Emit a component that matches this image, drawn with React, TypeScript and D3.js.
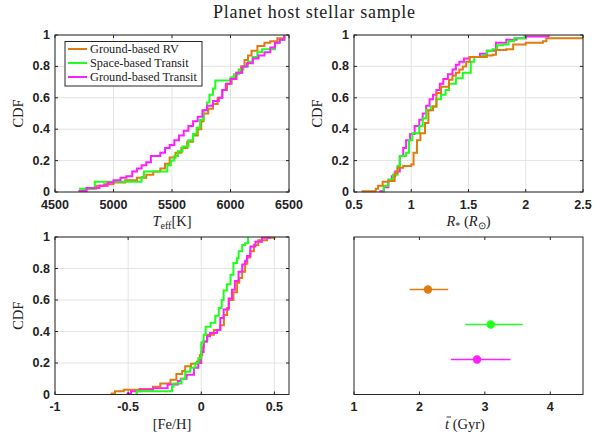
import React from "react";
import * as d3 from "d3";

// ---------- data ----------
const seriesNames = ["Ground-based RV", "Space-based Transit", "Ground-based Transit"];
const seriesColors = ["#e07b0e", "#1eff1e", "#ff1eff"];

// Teff CDF step breakpoints
const teffRvX = [4710, 4760, 4850, 4920, 5000, 5100, 5200, 5280, 5340, 5400, 5440, 5480, 5530, 5580, 5630, 5680, 5720, 5750, 5770, 5810, 5850, 5890, 5930, 5970, 6010, 6050, 6090, 6120, 6150, 6180, 6230, 6290, 6340, 6400, 6460];
const teffRvY = [0.01, 0.02, 0.04, 0.05, 0.06, 0.075, 0.09, 0.11, 0.13, 0.15, 0.18, 0.22, 0.25, 0.28, 0.32, 0.36, 0.40, 0.45, 0.50, 0.53, 0.56, 0.60, 0.65, 0.69, 0.73, 0.76, 0.80, 0.84, 0.87, 0.90, 0.93, 0.95, 0.96, 0.98, 1.0];
const teffSpX = [4705, 4840, 5240, 5260, 5460, 5490, 5520, 5550, 5590, 5640, 5680, 5710, 5740, 5770, 5800, 5820, 5850, 5870, 6000, 6030, 6070, 6110, 6150, 6190, 6230, 6270, 6380, 6420, 6460];
const teffSpY = [0.02, 0.065, 0.095, 0.13, 0.17, 0.2, 0.23, 0.26, 0.29, 0.33, 0.37, 0.41, 0.46, 0.52, 0.57, 0.62, 0.66, 0.71, 0.73, 0.75, 0.78, 0.80, 0.83, 0.86, 0.89, 0.91, 0.95, 0.97, 1.0];
const teffGtX = [4700, 4770, 4880, 4950, 5000, 5060, 5110, 5160, 5200, 5240, 5280, 5320, 5400, 5440, 5480, 5520, 5560, 5600, 5640, 5680, 5720, 5760, 5800, 5850, 5900, 5930, 5960, 6000, 6050, 6100, 6140, 6190, 6240, 6290, 6340, 6380, 6420, 6460];
const teffGtY = [0.006, 0.025, 0.04, 0.06, 0.075, 0.09, 0.1, 0.13, 0.15, 0.17, 0.19, 0.23, 0.25, 0.28, 0.3, 0.33, 0.36, 0.39, 0.42, 0.45, 0.48, 0.52, 0.55, 0.58, 0.6, 0.65, 0.69, 0.72, 0.76, 0.8, 0.82, 0.85, 0.87, 0.89, 0.92, 0.95, 0.97, 1.0];

// Stellar radius CDF step breakpoints
const radRvX = [0.565, 0.69, 0.71, 0.75, 0.80, 0.855, 0.88, 0.93, 1.0, 1.02, 1.05, 1.08, 1.12, 1.15, 1.19, 1.22, 1.26, 1.33, 1.36, 1.39, 1.42, 1.45, 1.48, 1.51, 1.66, 1.71, 1.74, 1.83, 1.89, 2.0, 2.15, 2.18, 2.5];
const radRvY = [0.005, 0.02, 0.04, 0.065, 0.07, 0.12, 0.155, 0.165, 0.175, 0.25, 0.33, 0.375, 0.44, 0.52, 0.545, 0.63, 0.67, 0.715, 0.74, 0.76, 0.78, 0.80, 0.83, 0.86, 0.87, 0.875, 0.905, 0.91, 0.94, 0.95, 0.96, 0.98, 0.98];
const radSpX = [0.75, 0.76, 0.80, 0.84, 0.88, 0.90, 0.955, 0.98, 1.01, 1.07, 1.10, 1.13, 1.17, 1.22, 1.26, 1.30, 1.33, 1.39, 1.45, 1.52, 1.55, 1.62, 1.66, 1.71, 1.75, 1.80, 1.85, 1.90, 1.99];
const radSpY = [0.005, 0.04, 0.08, 0.11, 0.165, 0.23, 0.25, 0.33, 0.375, 0.42, 0.47, 0.52, 0.545, 0.59, 0.62, 0.65, 0.69, 0.725, 0.76, 0.83, 0.86, 0.87, 0.9, 0.91, 0.935, 0.94, 0.96, 0.98, 1.0];
const radGtX = [0.72, 0.76, 0.80, 0.83, 0.86, 0.90, 0.93, 0.955, 0.99, 1.03, 1.07, 1.10, 1.13, 1.16, 1.19, 1.22, 1.25, 1.28, 1.32, 1.36, 1.39, 1.42, 1.46, 1.51, 1.60, 1.66, 1.74, 1.83, 1.92, 2.0, 2.2];
const radGtY = [0.005, 0.03, 0.07, 0.1, 0.13, 0.23, 0.28, 0.33, 0.37, 0.42, 0.46, 0.5, 0.55, 0.59, 0.62, 0.65, 0.69, 0.72, 0.75, 0.78, 0.81, 0.83, 0.85, 0.86, 0.88, 0.9, 0.95, 0.97, 0.98, 0.99, 1.0];

// [Fe/H] CDF step breakpoints
const fehRvX = [-0.62, -0.59, -0.53, -0.42, -0.33, -0.28, -0.21, -0.17, -0.13, -0.11, -0.07, -0.03, -0.01, 0.007, 0.018, 0.04, 0.086, 0.13, 0.155, 0.177, 0.19, 0.22, 0.245, 0.26, 0.28, 0.30, 0.315, 0.335, 0.36, 0.39, 0.45, 0.5];
const fehRvY = [0.006, 0.02, 0.03, 0.035, 0.05, 0.07, 0.093, 0.13, 0.15, 0.18, 0.195, 0.21, 0.25, 0.3, 0.336, 0.38, 0.41, 0.44, 0.505, 0.55, 0.6, 0.65, 0.71, 0.74, 0.78, 0.83, 0.87, 0.91, 0.95, 0.98, 0.995, 1.0];
const fehSpX = [-0.45, -0.44, -0.2, -0.19, -0.135, -0.11, -0.075, -0.04, -0.02, 0.0, 0.016, 0.03, 0.064, 0.096, 0.12, 0.14, 0.153, 0.175, 0.2, 0.22, 0.244, 0.256, 0.28, 0.3, 0.32];
const fehSpY = [0.01, 0.02, 0.05, 0.07, 0.1, 0.145, 0.17, 0.2, 0.23, 0.33, 0.38, 0.43, 0.455, 0.5, 0.55, 0.6, 0.66, 0.7, 0.76, 0.835, 0.865, 0.91, 0.95, 0.96, 1.0];
const fehGtX = [-0.51, -0.48, -0.42, -0.33, -0.23, -0.16, -0.14, -0.1, -0.05, -0.02, 0.0, 0.016, 0.04, 0.06, 0.107, 0.13, 0.153, 0.187, 0.21, 0.23, 0.255, 0.28, 0.3, 0.313, 0.336, 0.37, 0.415, 0.47];
const fehGtY = [0.006, 0.02, 0.03, 0.04, 0.063, 0.085, 0.1, 0.125, 0.17, 0.2, 0.27, 0.336, 0.37, 0.39, 0.41, 0.485, 0.54, 0.61, 0.665, 0.72, 0.78, 0.825, 0.85, 0.88, 0.94, 0.97, 0.995, 1.0];

// Mean age with error bars
const ageMean = [2.13, 3.09, 2.88];
const ageLow = [1.85, 2.70, 2.48];
const ageHigh = [2.44, 3.58, 3.39];
const ageRow = [3, 2, 1];

// Ticks
const cdfTicks = [0, 0.2, 0.4, 0.6, 0.8, 1];
const teffTicks = [4500, 5000, 5500, 6000, 6500];
const radTicks = [0.5, 1, 1.5, 2, 2.5];
const fehTicks = [-1, -0.5, 0, 0.5];
const ageTicks = [1, 2, 3, 4];

// ---------- layout ----------
const W = 602;
const H = 437;
const AX = "#262626";
const GRID = "#e3e3e3";
const TICKFONT = "'Liberation Sans', Arial, sans-serif";
const SERIF = "'Liberation Serif', 'Times New Roman', serif";
const LABEL_FS = 14.5;

type Box = { x0: number; x1: number; y0: number; y1: number };

function fmt(v: number) {
  return String(Math.round(v * 100) / 100);
}

function Grid({ box, xs, ys, xt, yt }: { box: Box; xs: any; ys: any; xt: number[]; yt: number[] }) {
  return (
    <g>
      {xt.map((t, i) => (
        <line key={"gx" + i} x1={xs(t)} x2={xs(t)} y1={box.y0} y2={box.y1} stroke={GRID} strokeWidth={1} />
      ))}
      {yt.map((t, i) => (
        <line key={"gy" + i} x1={box.x0} x2={box.x1} y1={ys(t)} y2={ys(t)} stroke={GRID} strokeWidth={1} />
      ))}
    </g>
  );
}

function FrameTop({ box, xs, ys, xt, yt }: { box: Box; xs: any; ys: any; xt: number[]; yt: number[] }) {
  const tl = 3;
  return (
    <g>
      <rect x={box.x0} y={box.y0} width={box.x1 - box.x0} height={box.y1 - box.y0} fill="none" stroke={AX} strokeWidth={1} />
      {xt.map((t, i) => (
        <g key={"tx" + i}>
          <line x1={xs(t)} x2={xs(t)} y1={box.y1} y2={box.y1 - tl} stroke={AX} />
          <line x1={xs(t)} x2={xs(t)} y1={box.y0} y2={box.y0 + tl} stroke={AX} />
          <text x={xs(t)} y={box.y1 + 16.5} textAnchor="middle" fontFamily={TICKFONT} fontWeight="bold" fontSize={12.5} fill="#222">
            {fmt(t)}
          </text>
        </g>
      ))}
      {yt.map((t, i) => (
        <g key={"ty" + i}>
          <line x1={box.x0} x2={box.x0 + tl} y1={ys(t)} y2={ys(t)} stroke={AX} />
          <line x1={box.x1} x2={box.x1 - tl} y1={ys(t)} y2={ys(t)} stroke={AX} />
          <text x={box.x0 - 5} y={ys(t) + 4} textAnchor="end" fontFamily={TICKFONT} fontWeight="bold" fontSize={12.5} fill="#222">
            {fmt(t)}
          </text>
        </g>
      ))}
    </g>
  );
}

function CdfPanel({ box, domain, xt, data, order, xlabel }: { box: Box; domain: [number, number]; xt: number[]; data: [number[], number[]][]; order: number[]; xlabel: React.ReactNode }) {
  const xs = d3.scaleLinear().domain(domain).range([box.x0, box.x1]);
  const ys = d3.scaleLinear().domain([0, 1]).range([box.y1, box.y0]);
  const line = d3
    .line<[number, number]>()
    .x((d) => xs(d[0]))
    .y((d) => ys(d[1]))
    .curve(d3.curveStepAfter);
  const cy = (box.y0 + box.y1) / 2;
  return (
    <g>
      <Grid box={box} xs={xs} ys={ys} xt={xt} yt={cdfTicks} />
      {order.map((si) => {
        const [xv, yv] = data[si];
        const pts: [number, number][] = xv.map((x, i) => [x, yv[i]]);
        return <path key={si} d={line(pts) || ""} fill="none" stroke={seriesColors[si]} strokeWidth={2} />;
      })}
      <FrameTop box={box} xs={xs} ys={ys} xt={xt} yt={cdfTicks} />
      <text transform={`translate(${box.x0 - 32},${cy}) rotate(-90)`} textAnchor="middle" fontFamily={SERIF} fontSize={LABEL_FS} fill="#222">
        CDF
      </text>
      <text x={(box.x0 + box.x1) / 2} y={box.y1 + 34} textAnchor="middle" fontFamily={SERIF} fontSize={LABEL_FS} fill="#222">
        {xlabel}
      </text>
    </g>
  );
}

function AgePanel({ box }: { box: Box }) {
  const xs = d3.scaleLinear().domain([1, 4.5]).range([box.x0, box.x1]);
  const ys = d3.scaleLinear().domain([0, 4.5]).range([box.y1, box.y0]);
  const lx = 445;
  const ly = box.y1 + 34;
  return (
    <g>
      {ageMean.map((m, i) => (
        <g key={i}>
          <line x1={xs(ageLow[i])} x2={xs(ageHigh[i])} y1={ys(ageRow[i])} y2={ys(ageRow[i])} stroke={seriesColors[i]} strokeWidth={1.3} />
          <circle cx={xs(m)} cy={ys(ageRow[i])} r={4.2} fill={seriesColors[i]} />
        </g>
      ))}
      <FrameTop box={box} xs={xs} ys={ys} xt={ageTicks} yt={[]} />
      <text x={lx} y={ly} textAnchor="start" fontFamily={SERIF} fontSize={LABEL_FS} fill="#222">
        <tspan fontStyle="italic">t</tspan>
        <tspan> (Gyr)</tspan>
      </text>
      <line x1={lx + 1.5} x2={lx + 6} y1={ly - 11.5} y2={ly - 11.5} stroke="#222" strokeWidth={0.9} />
    </g>
  );
}

export default function App() {
  const p1: Box = { x0: 55, x1: 289, y0: 35, y1: 192 };
  const p2: Box = { x0: 354, x1: 583, y0: 35, y1: 192 };
  const p3: Box = { x0: 55, x1: 289, y0: 237, y1: 394.5 };
  const p4: Box = { x0: 354, x1: 583, y0: 237, y1: 394.5 };

  const legendX = 65;
  const legendY = 41.5;
  return (
    <svg width={W} height={H} style={{ position: "absolute", left: 0, top: 0, background: "#fff" }}>
      <rect x={0} y={0} width={W} height={H} fill="#fff" />
      <text x={314} y={17.5} textAnchor="middle" fontFamily={SERIF} fontSize={18} textLength={202} lengthAdjust="spacing" fill="#222">
        Planet host stellar sample
      </text>

      <CdfPanel
        box={p1}
        domain={[4500, 6500]}
        xt={teffTicks}
        data={[[teffRvX, teffRvY], [teffSpX, teffSpY], [teffGtX, teffGtY]]}
        order={[0, 1, 2]}
        xlabel={
          <>
            <tspan fontStyle="italic">T</tspan>
            <tspan fontSize={10} dy={3}>eff</tspan>
            <tspan dy={-3}>[K]</tspan>
          </>
        }
      />
      <CdfPanel
        box={p2}
        domain={[0.5, 2.5]}
        xt={radTicks}
        data={[[radRvX, radRvY], [radSpX, radSpY], [radGtX, radGtY]]}
        order={[2, 1, 0]}
        xlabel={
          <>
            <tspan fontStyle="italic">R</tspan>
            <tspan fontSize={10} dy={3}>*</tspan>
            <tspan dy={-3}> (</tspan>
            <tspan fontStyle="italic">R</tspan>
            <tspan fontSize={10} dy={3}>⊙</tspan>
            <tspan dy={-3}>)</tspan>
          </>
        }
      />
      <CdfPanel
        box={p3}
        domain={[-1, 0.6]}
        xt={fehTicks}
        data={[[fehRvX, fehRvY], [fehSpX, fehSpY], [fehGtX, fehGtY]]}
        order={[0, 2, 1]}
        xlabel={<tspan>[Fe/H]</tspan>}
      />
      <AgePanel box={p4} />

      {/* legend */}
      <g>
        <rect x={legendX} y={legendY} width={137} height={44.5} fill="#fff" stroke={AX} strokeWidth={1} />
        {seriesNames.map((n, i) => (
          <g key={n}>
            <line x1={legendX + 3} x2={legendX + 22} y1={legendY + 7.5 + i * 14} y2={legendY + 7.5 + i * 14} stroke={seriesColors[i]} strokeWidth={2} />
            <text x={legendX + 25} y={legendY + 11.5 + i * 14} fontFamily={SERIF} fontSize={12.3} fill="#222">
              {n}
            </text>
          </g>
        ))}
      </g>
    </svg>
  );
}
